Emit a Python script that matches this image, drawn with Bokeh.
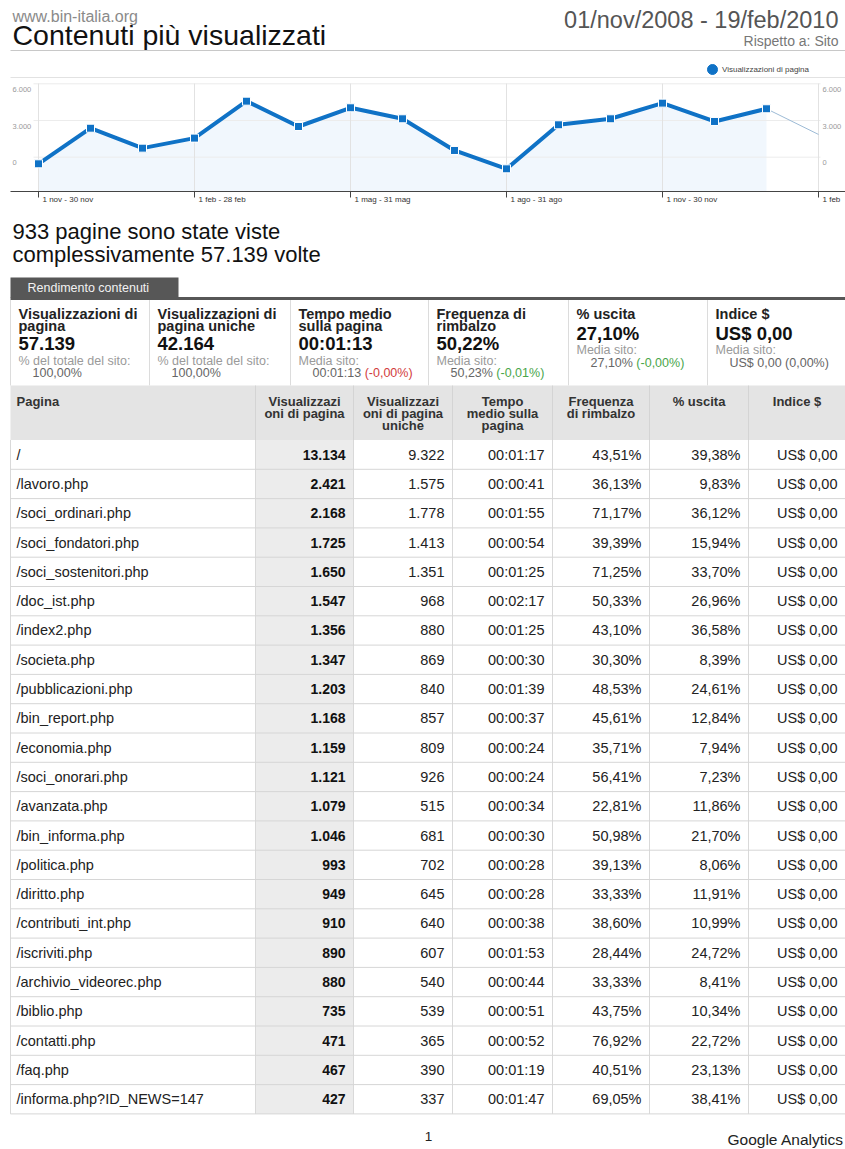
from bokeh.plotting import figure
from bokeh.models import Range1d, Legend, LegendItem
from bokeh.core.properties import value
from bokeh.embed import file_html
from bokeh.resources import INLINE

FONT = "Liberation Sans"
BLUE = "#0f72c6"

# ---------------- data ----------------
months = ["nov 2008", "dic 2008", "gen 2009", "feb 2009", "mar 2009", "apr 2009",
          "mag 2009", "giu 2009", "lug 2009", "ago 2009", "set 2009", "ott 2009",
          "nov 2009", "dic 2009", "gen 2010", "feb 2010"]
monthly_views = [-540, 2370, 740, 1560, 4580, 2510, 4040, 3140, 550, -950,
                 2650, 3140, 4420, 2920, 3960, 1860]
x_tick_months = [0, 3, 6, 9, 12, 15]
x_tick_labels = ["1 nov - 30 nov", "1 feb - 28 feb", "1 mag - 31 mag",
                 "1 ago - 31 ago", "1 nov - 30 nov", "1 feb"]
y_ticks = [0, 3000, 6000]
y_tick_labels = ["0", "3.000", "6.000"]
series_name = "Visualizzazioni di pagina"

site = "www.bin-italia.org"
title = "Contenuti più visualizzati"
date_range = "01/nov/2008 - 19/feb/2010"
compare = "Rispetto a: Sito"
headline = ["933 pagine sono state viste", "complessivamente 57.139 volte"]
tab_label = "Rendimento contenuti"

summary_titles = [["Visualizzazioni di", "pagina"], ["Visualizzazioni di", "pagina uniche"],
                  ["Tempo medio", "sulla pagina"], ["Frequenza di", "rimbalzo"],
                  ["% uscita"], ["Indice $"]]
summary_values = ["57.139", "42.164", "00:01:13", "50,22%", "27,10%", "US$ 0,00"]
summary_notes = ["% del totale del sito:", "% del totale del sito:", "Media sito:",
                 "Media sito:", "Media sito:", "Media sito:"]
summary_site = ["100,00%", "100,00%", "00:01:13", "50,23%", "27,10%", "US$ 0,00 (0,00%)"]
summary_delta = ["", "", "(-0,00%)", "(-0,01%)", "(-0,00%)", ""]
summary_delta_color = ["#666666", "#666666", "#d23c3c", "#4aa64a", "#4aa64a", "#666666"]

col_headers = [["Visualizzazi", "oni di pagina"], ["Visualizzazi", "oni di pagina", "uniche"],
               ["Tempo", "medio sulla", "pagina"], ["Frequenza", "di rimbalzo"],
               ["% uscita"], ["Indice $"]]

pages = ["/", "/lavoro.php", "/soci_ordinari.php", "/soci_fondatori.php",
         "/soci_sostenitori.php", "/doc_ist.php", "/index2.php", "/societa.php",
         "/pubblicazioni.php", "/bin_report.php", "/economia.php", "/soci_onorari.php",
         "/avanzata.php", "/bin_informa.php", "/politica.php", "/diritto.php",
         "/contributi_int.php", "/iscriviti.php", "/archivio_videorec.php", "/biblio.php",
         "/contatti.php", "/faq.php", "/informa.php?ID_NEWS=147"]
pageviews = [13134, 2421, 2168, 1725, 1650, 1547, 1356, 1347, 1203, 1168, 1159, 1121,
             1079, 1046, 993, 949, 910, 890, 880, 735, 471, 467, 427]
unique_views = [9322, 1575, 1778, 1413, 1351, 968, 880, 869, 840, 857, 809, 926,
                515, 681, 702, 645, 640, 607, 540, 539, 365, 390, 337]
avg_time = ["00:01:17", "00:00:41", "00:01:55", "00:00:54", "00:01:25", "00:02:17",
            "00:01:25", "00:00:30", "00:01:39", "00:00:37", "00:00:24", "00:00:24",
            "00:00:34", "00:00:30", "00:00:28", "00:00:28", "00:00:38", "00:01:53",
            "00:00:44", "00:00:51", "00:00:52", "00:01:19", "00:01:47"]
bounce = ["43,51%", "36,13%", "71,17%", "39,39%", "71,25%", "50,33%", "43,10%", "30,30%",
          "48,53%", "45,61%", "35,71%", "56,41%", "22,81%", "50,98%", "39,13%", "33,33%",
          "38,60%", "28,44%", "33,33%", "43,75%", "76,92%", "40,51%", "69,05%"]
exit_rate = ["39,38%", "9,83%", "36,12%", "15,94%", "33,70%", "26,96%", "36,58%", "8,39%",
             "24,61%", "12,84%", "7,94%", "7,23%", "11,86%", "21,70%", "8,06%", "11,91%",
             "10,99%", "24,72%", "8,41%", "10,34%", "22,72%", "23,13%", "38,41%"]
dollar_index = ["US$ 0,00"] * len(pages)
page_number = "1"
footer = "Google Analytics"


def it_num(n):
    return f"{n:,}".replace(",", ".")


# approximate Arial advance widths (em) used to place coloured text pieces
W = {**{d: 0.556 for d in "0123456789"}, ",": 0.278, ".": 0.278, ":": 0.278, " ": 0.278,
     "%": 0.889, "(": 0.333, ")": 0.333, "-": 0.333, "U": 0.722, "S": 0.667, "$": 0.556}


def text_w(s, size):
    return sum(W.get(c, 0.55) for c in s) * size


PAGE_W, PAGE_H = 845, 1149

p = figure(width=PAGE_W, height=PAGE_H, x_range=Range1d(0, PAGE_W), y_range=Range1d(PAGE_H, 0),
           output_backend="svg", toolbar_location=None, min_border=0,
           x_axis_type=None, y_axis_type=None, outline_line_color=None)
p.xgrid.visible = False
p.ygrid.visible = False
p.background_fill_color = "white"
p.border_fill_color = "white"


def txt(xs, ys, texts, size, color="#222222", align="left", bold=False, **kw):
    p.text(x=xs, y=ys, text=texts, text_font=value(FONT),
           text_font_size=value(f"{size}px"),
           text_font_style="bold" if bold else "normal",
           text_color=color, text_align=align, text_baseline="middle", **kw)


# ---------------- header ----------------
txt([12], [16], [site], 16, "#8a8a8a")
txt([12], [34], [title], 28.5, "#111111")
txt([838], [19], [date_range], 23.5, "#555555", align="right")
txt([838], [40], [compare], 14, "#777777", align="right")
p.segment(x0=[10], y0=[50], x1=[PAGE_W], y1=[50], line_color="#c8c8c8", line_width=1)

# ---------------- chart (own scales placed in the page) ----------------
CH_L, CH_T, CH_B = 10, 77, 191          # chart box in page pixels
M_FIRST_PX, M_LAST_PX = 38, 818          # pixel of first / last month tick
V_LO_PX, V_HI_PX = 156.7, 83.3           # pixel of lowest / highest y tick
mpx = (M_LAST_PX - M_FIRST_PX) / (x_tick_months[-1] - x_tick_months[0])
vpx = (V_LO_PX - V_HI_PX) / (y_ticks[-1] - y_ticks[0])
p.extra_x_ranges = {"cx": Range1d(x_tick_months[0] - M_FIRST_PX / mpx,
                                  x_tick_months[0] + (PAGE_W - M_FIRST_PX) / mpx)}
p.extra_y_ranges = {"cy": Range1d(y_ticks[0] - (PAGE_H - V_LO_PX) / vpx,
                                  y_ticks[0] + V_LO_PX / vpx)}


def cy_at(py):
    return y_ticks[0] + (V_LO_PX - py) / vpx


def cx_at(px):
    return x_tick_months[0] + (px - M_FIRST_PX) / mpx


xs = list(range(len(months)))
n_full = len(months) - 1

p.segment(x0=[CH_L], y0=[CH_T], x1=[PAGE_W], y1=[CH_T], line_color="#e2e2e2", line_width=1)
p.varea(x=xs[:n_full], y1=[cy_at(CH_B)] * n_full, y2=monthly_views[:n_full],
        fill_color="#f1f7fd", x_range_name="cx", y_range_name="cy")
p.segment(x0=[cx_at(33)] * 3, y0=y_ticks, x1=[cx_at(820)] * 3, y1=y_ticks,
          line_color="#ececec", line_width=1, x_range_name="cx", y_range_name="cy")
p.segment(x0=x_tick_months, y0=[CH_T + 6] * 6, x1=x_tick_months, y1=[CH_B] * 6,
          line_color="#e2e2e2", line_width=1, x_range_name="cx")
p.line(xs[n_full - 1:], monthly_views[n_full - 1:], line_width=1, line_color="#9dbbd6",
       x_range_name="cx", y_range_name="cy")
p.line(xs[:n_full], monthly_views[:n_full], line_width=4, line_color=BLUE,
       x_range_name="cx", y_range_name="cy")
p.scatter(xs[:n_full], monthly_views[:n_full], marker="square", size=8,
          fill_color=BLUE, line_color="white", line_width=1,
          x_range_name="cx", y_range_name="cy")

# x axis
p.segment(x0=[CH_L], y0=[CH_B], x1=[PAGE_W], y1=[CH_B], line_color="#444444", line_width=1)
p.segment(x0=x_tick_months, y0=[CH_B] * 6, x1=x_tick_months, y1=[CH_B + 6] * 6,
          line_color="#444444", line_width=1, x_range_name="cx")
p.text(x=x_tick_months, y=[CH_B + 8] * 6, text=x_tick_labels, x_offset=4,
       text_font=value(FONT), text_font_size=value("8px"), text_color="#333333",
       text_align="left", text_baseline="middle", x_range_name="cx")
# y axes (left and right)
for lx in (12, 822):
    p.text(x=[lx] * 3, y=y_ticks, text=y_tick_labels, y_offset=5.5,
           text_font=value(FONT), text_font_size=value("7.5px"), text_color="#9a9a9a",
           text_align="left", text_baseline="middle", y_range_name="cy")

# legend: marker + label
LEG_X, LEG_Y = 712, 69
dot = p.scatter(x=[LEG_X], y=[LEG_Y], marker="circle", size=10, fill_color=BLUE,
                line_color=BLUE)
leg = Legend(items=[LegendItem(label=series_name, renderers=[dot])],
             location=(LEG_X - 6, PAGE_H - LEG_Y - 5), orientation="horizontal",
             padding=0, margin=0, spacing=0, glyph_height=10, glyph_width=12,
             label_height=10, label_standoff=4, label_text_font=FONT,
             label_text_font_size="8px", label_text_color="#444444",
             border_line_color=None, background_fill_alpha=0)
p.add_layout(leg)

# ---------------- headline + summary ----------------
txt([12, 12], [231, 254], headline, 22, "#111111")

p.quad(left=[10], right=[178], top=[277], bottom=[297], fill_color="#575757", line_color=None)
txt([27], [287], [tab_label], 12.5, "#f2f2f2")
p.quad(left=[10], right=[PAGE_W], top=[296.5], bottom=[299.5], fill_color="#575757",
       line_color=None)

box_left = [10, 149, 290, 428, 568, 707]
box_top, box_bot = 299.5, 385
p.segment(x0=box_left, y0=[box_top] * 6, x1=box_left, y1=[box_bot] * 6,
          line_color="#dcdcdc", line_width=1)
for k in range(len(summary_values)):
    lx = box_left[k] + 8
    lines = summary_titles[k]
    txt([lx] * len(lines), [313 + 12.5 * j for j in range(len(lines))], lines, 14.5,
        "#222222", bold=True)
    two = len(lines) == 2
    vy, ny, sy = (343, 360.5, 372) if two else (333, 349.5, 362)
    txt([lx], [vy], [summary_values[k]], 18.5, "#111111", bold=True)
    txt([lx], [ny], [summary_notes[k]], 12.5, "#9a9a9a")
    sx = box_left[k] + 22
    txt([sx], [sy], [summary_site[k]], 12.5, "#666666")
    if summary_delta[k]:
        dx = sx + text_w(summary_site[k] + " ", 12.5)
        txt([dx], [sy], [summary_delta[k]], 12.5, summary_delta_color[k])

# ---------------- table ----------------
col_edges = [10, 255, 353, 452, 552, 649, 748, PAGE_W]
head_top, head_bot = 385, 439.5
row_h = 29.3
n_rows = len(pages)
table_bot = head_bot + n_rows * row_h

p.quad(left=[10], right=[PAGE_W], top=[head_top], bottom=[head_bot],
       fill_color="#e4e4e4", line_color=None)
p.quad(left=[col_edges[1]], right=[col_edges[2]], top=[head_bot], bottom=[table_bot],
       fill_color="#ececec", line_color=None)

p.segment(x0=col_edges[1:-1], y0=[head_top] * 6, x1=col_edges[1:-1], y1=[head_bot] * 6,
          line_color="#d4d4d4", line_width=1)
p.segment(x0=col_edges[:-1], y0=[head_bot] * 7, x1=col_edges[:-1], y1=[table_bot] * 7,
          line_color="#d9d9d9", line_width=1)
row_lines = [head_bot + r * row_h for r in range(1, n_rows + 1)]
p.segment(x0=[10] * n_rows, y0=row_lines, x1=[PAGE_W] * n_rows, y1=row_lines,
          line_color="#d6d6d6", line_width=1)

txt([16], [401], ["Pagina"], 13, "#333333", bold=True)
for c, lines in enumerate(col_headers):
    cx = (col_edges[c + 1] + col_edges[c + 2]) / 2
    txt([cx] * len(lines), [401 + 12 * j for j in range(len(lines))], lines, 13,
        "#333333", align="center", bold=True)

row_y = [head_bot + (r + 0.5) * row_h for r in range(n_rows)]
txt([16] * n_rows, row_y, pages, 14.5, "#222222")
columns = [[it_num(v) for v in pageviews], [it_num(v) for v in unique_views],
           avg_time, bounce, exit_rate, dollar_index]
for c, vals in enumerate(columns):
    rx = col_edges[c + 2] - 8
    txt([rx] * n_rows, row_y, vals, 14 if c == 0 else 14.5,
        "#111111" if c == 0 else "#222222", align="right", bold=(c == 0))

txt([428], [1136], [page_number], 13.5, "#222222", align="center")
txt([727], [1139], [footer], 15.5, "#222222")

open("out.html", "w").write(file_html(p, INLINE))
